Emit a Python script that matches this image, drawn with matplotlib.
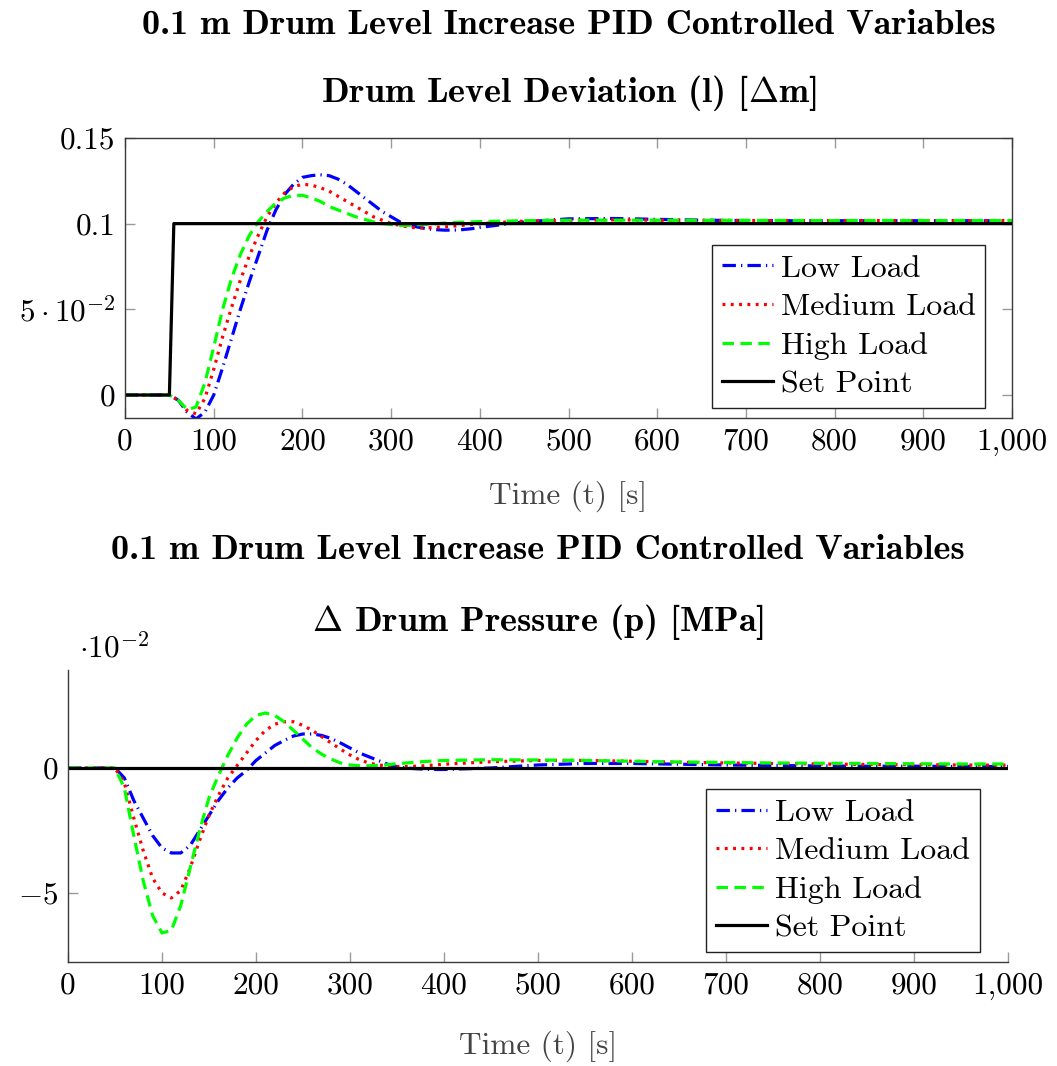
import matplotlib
matplotlib.use("Agg")
import matplotlib.pyplot as plt
from matplotlib.ticker import FixedLocator, FixedFormatter

plt.rcParams["font.family"] = ["cmr10", "DejaVu Sans"]
plt.rcParams["mathtext.fontset"] = "cm"
plt.rcParams["axes.unicode_minus"] = False

# ---------------- data ----------------
t = [0, 10, 20, 30, 40, 50, 60, 70, 80, 90, 100, 110, 120, 130, 140, 150,
     160, 170, 180, 190, 200, 210, 220, 230, 240, 250, 260, 270, 280, 290,
     300, 310, 320, 330, 340, 350, 360, 370, 380, 390, 400, 450, 500, 550,
     600, 650, 700, 750, 800, 850, 900, 950, 1000]

# drum level deviation [m]
level_low = [0, 0, 0, 0, 0, 0, -0.003, -0.010, -0.014, -0.010, 0.000, 0.016,
             0.033, 0.050, 0.066, 0.081, 0.096, 0.108, 0.117, 0.123, 0.127,
             0.128, 0.1285, 0.128, 0.126, 0.123, 0.119, 0.115, 0.111, 0.107,
             0.104, 0.101, 0.099, 0.098, 0.097, 0.0965, 0.0962, 0.0962,
             0.0965, 0.097, 0.0978, 0.101, 0.1028, 0.103, 0.1025, 0.102,
             0.1018, 0.1017, 0.1017, 0.1017, 0.1017, 0.1017, 0.1017]
level_med = [0, 0, 0, 0, 0, 0, -0.003, -0.009, -0.011, -0.002, 0.015, 0.034,
             0.051, 0.067, 0.081, 0.093, 0.104, 0.112, 0.118, 0.1215, 0.123,
             0.1225, 0.121, 0.119, 0.116, 0.113, 0.110, 0.107, 0.104, 0.102,
             0.100, 0.099, 0.098, 0.0975, 0.0975, 0.0978, 0.098, 0.0985,
             0.099, 0.0995, 0.100, 0.1015, 0.102, 0.1022, 0.102, 0.1019,
             0.1018, 0.1018, 0.1018, 0.1018, 0.1018, 0.1018, 0.1018]
level_high = [0, 0, 0, 0, 0, 0, -0.003, -0.0085, -0.007, 0.007, 0.028, 0.050,
              0.068, 0.082, 0.093, 0.101, 0.107, 0.112, 0.115, 0.1165, 0.1165,
              0.115, 0.113, 0.110, 0.108, 0.106, 0.104, 0.1025, 0.101, 0.100,
              0.0995, 0.099, 0.099, 0.0993, 0.0997, 0.100, 0.1003, 0.1006,
              0.1008, 0.101, 0.1012, 0.1017, 0.102, 0.102, 0.102, 0.1019,
              0.1019, 0.1018, 0.1018, 0.1018, 0.1018, 0.1018, 0.1018]
sp_t = [0, 50, 55, 1000]
level_sp = [0, 0, 0.1, 0.1]

# drum pressure deviation [MPa]
press_low = [0, 0, 0, 0, 0, 0, -0.004, -0.013, -0.020, -0.027, -0.032, -0.034,
             -0.034, -0.031, -0.025, -0.019, -0.013, -0.008, -0.004, -0.001,
             0.003, 0.006, 0.009, 0.011, 0.0128, 0.0136, 0.0136, 0.013,
             0.0118, 0.010, 0.008, 0.006, 0.0045, 0.003, 0.0015, 0.0005, 0.0,
             -0.0003, -0.0005, -0.0006, -0.0006, 0.0, 0.0012, 0.0018, 0.0018,
             0.0015, 0.0012, 0.001, 0.0008, 0.0007, 0.0007, 0.0006, 0.0006]
press_med = [0, 0, 0, 0, 0, 0, -0.006, -0.020, -0.033, -0.044, -0.050, -0.052,
             -0.049, -0.040, -0.029, -0.019, -0.011, -0.004, 0.001, 0.006,
             0.011, 0.015, 0.0175, 0.0185, 0.0185, 0.017, 0.015, 0.0125,
             0.010, 0.0075, 0.0052, 0.0033, 0.002, 0.0012, 0.0008, 0.0006,
             0.0006, 0.0007, 0.0009, 0.0012, 0.0015, 0.0025, 0.003, 0.003,
             0.0027, 0.0023, 0.002, 0.0018, 0.0016, 0.0014, 0.0013, 0.0012,
             0.0011]
press_high = [0, 0, 0, 0, 0, 0, -0.008, -0.027, -0.045, -0.059, -0.066, -0.065,
              -0.055, -0.040, -0.025, -0.012, -0.003, 0.005, 0.012, 0.0175,
              0.021, 0.022, 0.021, 0.0185, 0.015, 0.0115, 0.008, 0.0055,
              0.0035, 0.002, 0.0012, 0.0009, 0.0009, 0.001, 0.0013, 0.0017,
              0.002, 0.0023, 0.0026, 0.0028, 0.003, 0.0033, 0.0032, 0.003,
              0.0027, 0.0024, 0.0022, 0.002, 0.0019, 0.0018, 0.0017, 0.0016,
              0.0016]
press_sp = [0, 0, 0, 0]

labels = ["Low Load", "Medium Load", "High Load", "Set Point"]
x_ticks = [0, 100, 200, 300, 400, 500, 600, 700, 800, 900, 1000]
x_tick_labels = ["0", "100", "200", "300", "400", "500", "600", "700",
                 "800", "900", "1,000"]
level_ticks = [0, 0.05, 0.1, 0.15]
level_tick_labels = ["0", r"$5\cdot10^{-2}$", "0.1", "0.15"]
press_ticks = [-0.05, 0]
press_tick_labels = [r"$-5$", "0"]

# ---------------- styles ----------------
LW = 2.3
styles = [
    dict(color=(0, 0, 1), linestyle=(0, (4.2, 1.6, 0.4, 1.6))),
    dict(color=(1, 0, 0), linestyle=(0, (0.9, 1.7))),
    dict(color=(0, 1, 0), linestyle=(0, (3.6, 2.0))),
    dict(color="black", linestyle="-"),
]
FS = 22.5
LEG_FS = 23
TITLE_FS = 26
frame_col = "#3a3a3a"
tick_col = "#9a9a9a"

fig = plt.figure(figsize=(10.57, 10.66), dpi=100)


def style_axes(ax, box, xpad):
    ax.xaxis.set_major_locator(FixedLocator(x_ticks))
    ax.xaxis.set_major_formatter(FixedFormatter(x_tick_labels))
    ax.set_xlim(0, 1000)
    for s in ax.spines.values():
        s.set_color(frame_col)
        s.set_linewidth(1.0)
    if not box:
        ax.spines["top"].set_visible(False)
        ax.spines["right"].set_visible(False)
    ax.tick_params(direction="in", length=7, width=1.0, color=tick_col,
                   labelsize=FS, top=box, right=box, pad=7)
    ax.set_xlabel("Time (t) [s]", fontsize=FS, color="#444444",
                  labelpad=xpad)


def add_legend(ax, anchor):
    leg = ax.legend(loc="lower right", bbox_to_anchor=anchor,
                    fontsize=LEG_FS, frameon=True, fancybox=False,
                    edgecolor="#222222", framealpha=1, handlelength=1.6,
                    handletextpad=0.25, borderpad=0.3, labelspacing=0.32,
                    borderaxespad=0)
    leg.get_frame().set_linewidth(1.0)


# ---- top: drum level ----
ax1 = fig.add_axes([0.1183, 0.6079, 0.8392, 0.2627])
for y, st, lab in zip([level_low, level_med, level_high], styles, labels):
    ax1.plot(t, y, lw=LW, label=lab, **st)
ax1.plot(sp_t, level_sp, lw=LW, label=labels[3], **styles[3])
ax1.set_ylim(-0.0134, 0.15)
ax1.yaxis.set_major_locator(FixedLocator(level_ticks))
ax1.yaxis.set_major_formatter(FixedFormatter(level_tick_labels))
style_axes(ax1, True, 18)
add_legend(ax1, (0.970, 0.036))

# ---- bottom: drum pressure ----
ax2 = fig.add_axes([0.0643, 0.0976, 0.8893, 0.2739])
for y, st, lab in zip([press_low, press_med, press_high], styles, labels):
    ax2.plot(t, y, lw=LW, label=lab, **st)
ax2.plot(sp_t, press_sp, lw=LW, label=labels[3], **styles[3])
ax2.set_ylim(-0.0776, 0.0392)
ax2.yaxis.set_major_locator(FixedLocator(press_ticks))
ax2.yaxis.set_major_formatter(FixedFormatter(press_tick_labels))
style_axes(ax2, False, 22)
add_legend(ax2, (0.970, 0.034))
ax2.text(0.012, 1.02, r"$\cdot10^{-2}$", transform=ax2.transAxes,
         fontsize=FS, ha="left", va="bottom")

# ---- titles ----
main_title = "0.1 m Drum Level Increase PID Controlled Variables"
title_font = dict(fontsize=TITLE_FS, family=["cmb10", "DejaVu Sans"],
                  ha="center", va="center")
fig.text(0.5378, 0.9765, main_title, **title_font)
fig.text(0.5378, 0.9128, r"Drum Level Deviation (l) [$\mathbf{\Delta}$m]",
         **title_font)
fig.text(0.509, 0.4840, main_title, **title_font)
fig.text(0.509, 0.4165, r"$\mathbf{\Delta}$ Drum Pressure (p) [MPa]",
         **title_font)

fig.savefig("out.png", dpi=100)
